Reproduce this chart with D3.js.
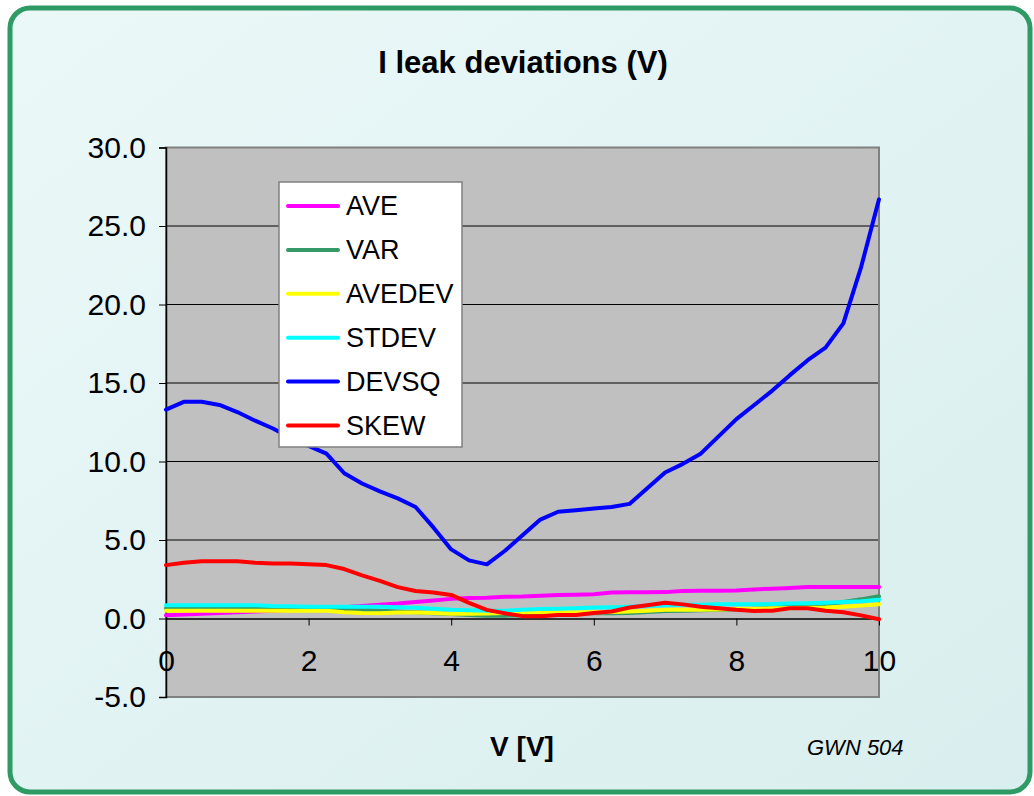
<!DOCTYPE html>
<html>
<head>
<meta charset="utf-8">
<script src="https://cdn.jsdelivr.net/npm/d3@7"></script>
<style>
  body { margin: 0; background: #fff; }
  svg { display: block; font-family: Arial, "Liberation Sans", sans-serif; }
</style>
</head>
<body>
<div id="chart"></div>
<script>
// x values (V), step 0.25
const volts = d3.range(0, 10.001, 0.25);

const ave = [0.2, 0.25, 0.3, 0.35, 0.4, 0.45, 0.5, 0.55, 0.6, 0.65, 0.72, 0.8, 0.88, 0.95, 1.05, 1.15, 1.25, 1.3, 1.32, 1.38, 1.4,
  1.45, 1.5, 1.52, 1.55, 1.65, 1.67, 1.67, 1.68, 1.75, 1.77, 1.77, 1.78, 1.85, 1.9, 1.95, 2.0, 2.0, 2.0, 2.0, 2.0];
const vari = [0.65, 0.65, 0.65, 0.65, 0.65, 0.65, 0.65, 0.65, 0.65, 0.62, 0.58, 0.55, 0.5, 0.45, 0.4, 0.33, 0.28, 0.22, 0.18, 0.18, 0.2,
  0.25, 0.3, 0.32, 0.33, 0.33, 0.35, 0.42, 0.47, 0.5, 0.52, 0.55, 0.58, 0.62, 0.68, 0.75, 0.8, 0.9, 1.05, 1.22, 1.42];
const avedev = [0.5, 0.5, 0.5, 0.5, 0.5, 0.5, 0.5, 0.5, 0.5, 0.5, 0.4, 0.35, 0.33, 0.38, 0.38, 0.35, 0.3, 0.3, 0.32, 0.35, 0.4,
  0.42, 0.42, 0.4, 0.4, 0.42, 0.45, 0.5, 0.55, 0.55, 0.55, 0.58, 0.6, 0.62, 0.65, 0.65, 0.68, 0.7, 0.75, 0.82, 0.9];
const stdev = [0.85, 0.85, 0.85, 0.85, 0.85, 0.85, 0.8, 0.78, 0.75, 0.75, 0.75, 0.75, 0.75, 0.72, 0.68, 0.62, 0.55, 0.52, 0.5, 0.5, 0.55,
  0.6, 0.62, 0.65, 0.7, 0.72, 0.75, 0.8, 0.85, 0.87, 0.88, 0.9, 0.9, 0.9, 0.92, 0.95, 0.97, 1.0, 1.05, 1.1, 1.2];
const devsq = [13.3, 13.8, 13.8, 13.6, 13.15, 12.6, 12.1, 11.5, 11.0, 10.5, 9.25, 8.6, 8.1, 7.65, 7.1, 5.8, 4.4, 3.7, 3.45, 4.3, 5.3,
  6.3, 6.8, 6.9, 7.0, 7.1, 7.3, 8.3, 9.3, 9.85, 10.5, 11.6, 12.7, 13.6, 14.5, 15.5, 16.45, 17.25, 18.8, 22.4, 26.7];
const skew = [3.4, 3.55, 3.65, 3.65, 3.65, 3.55, 3.5, 3.5, 3.45, 3.4, 3.15, 2.75, 2.4, 2.0, 1.75, 1.65, 1.5, 1.0, 0.55, 0.33, 0.15,
  0.15, 0.22, 0.22, 0.35, 0.45, 0.7, 0.85, 1.0, 0.9, 0.75, 0.65, 0.55, 0.48, 0.5, 0.65, 0.65, 0.5, 0.4, 0.2, -0.05];

const seriesNames = ["AVE", "VAR", "AVEDEV", "STDEV", "DEVSQ", "SKEW"];
const seriesColors = ["#ff00ff", "#339966", "#ffff00", "#00ffff", "#0000ff", "#ff0000"];
const seriesValues = [ave, vari, avedev, stdev, devsq, skew];

const xTicks = [0, 2, 4, 6, 8, 10];
const yTicks = [-5, 0, 5, 10, 15, 20, 25, 30];

const W = 1034, H = 796;
const svg = d3.select("#chart").append("svg").attr("width", W).attr("height", H);

// frame
const defs = svg.append("defs");
const grad = defs.append("linearGradient").attr("id", "bg")
    .attr("x1", "0").attr("y1", "0").attr("x2", "1").attr("y2", "1");
grad.append("stop").attr("offset", "0").attr("stop-color", "#ebf8f8");
grad.append("stop").attr("offset", "1").attr("stop-color", "#d9eeee");

svg.append("rect")
    .attr("x", 10).attr("y", 8).attr("width", 1020).attr("height", 784)
    .attr("rx", 20).attr("ry", 20)
    .attr("fill", "url(#bg)")
    .attr("stroke", "#2e9a64").attr("stroke-width", 5);

// plot area
const pLeft = 166, pRight = 879, pTop = 147.5, pBottom = 697;
const x = d3.scaleLinear().domain([0, 10]).range([pLeft, pRight]);
const y = d3.scaleLinear().domain([-5, 30]).range([pBottom, pTop]);

svg.append("rect")
    .attr("x", pLeft).attr("y", pTop)
    .attr("width", pRight - pLeft).attr("height", pBottom - pTop)
    .attr("fill", "#c0c0c0");

// gridlines
svg.append("g")
  .selectAll("line")
  .data(yTicks.filter(d => d > -5 && d < 30 && d !== 0))
  .join("line")
    .attr("x1", pLeft).attr("x2", pRight)
    .attr("y1", d => y(d)).attr("y2", d => y(d))
    .attr("stroke", "#000").attr("stroke-width", 1);

svg.append("rect")
    .attr("x", pLeft).attr("y", pTop)
    .attr("width", pRight - pLeft).attr("height", pBottom - pTop)
    .attr("fill", "none").attr("stroke", "#808080").attr("stroke-width", 2);

// y axis
const fmt1 = d3.format(".1f");
const yAxis = svg.append("g")
    .attr("transform", `translate(${pLeft},0)`)
    .call(d3.axisLeft(y).tickValues(yTicks).tickSize(7).tickPadding(13)
      .tickFormat(d => fmt1(d).replace("\u2212", "-")));
yAxis.select(".domain").attr("stroke", "#000").attr("stroke-width", 1.5);
yAxis.selectAll("text").attr("font-size", 30).attr("fill", "#000")
    .attr("font-family", "Arial, 'Liberation Sans', sans-serif");

// x axis at y = 0
const xAxis = svg.append("g")
    .attr("transform", `translate(0,${y(0)})`)
    .call(d3.axisBottom(x).tickValues(xTicks).tickSize(7).tickPadding(24).tickSizeOuter(0).tickFormat(d3.format("d")));
xAxis.select(".domain").attr("stroke", "#000").attr("stroke-width", 1.5);
xAxis.selectAll("text").attr("font-size", 30).attr("fill", "#000")
    .attr("font-family", "Arial, 'Liberation Sans', sans-serif");

// lines
const line = d3.line()
    .x((d, i) => x(volts[i]))
    .y(d => y(d));

svg.append("g")
  .selectAll("path")
  .data(seriesValues)
  .join("path")
    .attr("fill", "none")
    .attr("stroke", (d, i) => seriesColors[i])
    .attr("stroke-width", 4)
    .attr("stroke-linejoin", "round")
    .attr("stroke-linecap", "round")
    .attr("d", line);

// legend
const legend = svg.append("g");
legend.append("rect")
    .attr("x", 279).attr("y", 182).attr("width", 183).attr("height", 265)
    .attr("fill", "#fff").attr("stroke", "#808080").attr("stroke-width", 1.5);
const rows = legend.selectAll("g.row")
  .data(seriesNames)
  .join("g")
    .attr("class", "row")
    .attr("transform", (d, i) => `translate(0,${206 + i * 43.9})`);
rows.append("line")
    .attr("x1", 288).attr("x2", 338)
    .attr("stroke", (d, i) => seriesColors[i])
    .attr("stroke-width", 4).attr("stroke-linecap", "round");
rows.append("text")
    .attr("x", 346).attr("y", 0).attr("dy", "0.35em")
    .attr("font-size", 27)
    .text(d => d);

// titles
svg.append("text")
    .attr("x", 523).attr("y", 73)
    .attr("text-anchor", "middle")
    .attr("font-size", 31).attr("font-weight", "bold")
    .text("I leak deviations (V)");

svg.append("text")
    .attr("x", 522).attr("y", 756)
    .attr("text-anchor", "middle")
    .attr("font-size", 28).attr("font-weight", "bold")
    .text("V [V]");

svg.append("text")
    .attr("x", 807).attr("y", 755)
    .attr("font-size", 22).attr("font-style", "italic")
    .text("GWN 504");
</script>
</body>
</html>
